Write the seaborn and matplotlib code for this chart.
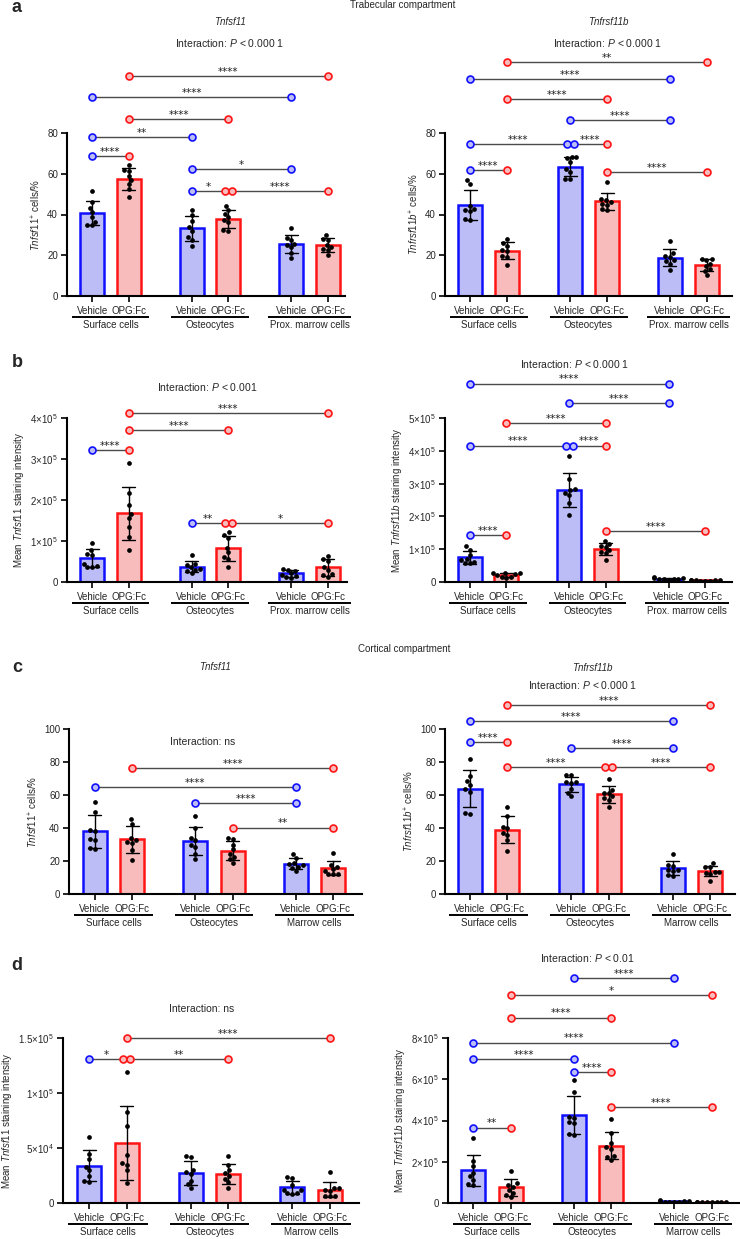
import numpy as np
import pandas as pd
import matplotlib
matplotlib.use("Agg")
import matplotlib.pyplot as plt
import matplotlib.transforms as mtransforms
import seaborn as sns

W, H, DPI = 740, 1239, 100

# ---------------- data ----------------
treatments = ["Vehicle", "OPG:Fc"]
groups_trab = ["Surface cells", "Osteocytes", "Prox. marrow cells"]
groups_cort = ["Surface cells", "Osteocytes", "Marrow cells"]

# a: Trabecular, % positive cells
a_tnfsf11_veh = [[51.7, 46, 43, 41, 38.6, 36.5, 35, 34.7],
                 [42, 39.6, 37, 34, 32, 29, 27.6, 24.4],
                 [33.5, 28.6, 27.6, 25.7, 24.9, 24, 21.3, 18.8]]
a_tnfsf11_opg = [[64.1, 62, 61.5, 59, 57, 55, 52.5, 48.6],
                 [44, 42, 40.4, 38.8, 37.5, 36.3, 32.2, 31.9],
                 [29.8, 28.1, 27.6, 24.9, 24, 23.2, 22.4, 20]]
a_tnfrsf11b_veh = [[57, 55, 44, 42.5, 42, 41.5, 38, 37.5],
                   [68.2, 68, 67.5, 65.8, 62.5, 60.9, 57.6, 57.6],
                   [27, 21.1, 19.5, 19.1, 17.5, 17, 15.9, 12.9]]
a_tnfrsf11b_opg = [[28, 26, 24.4, 22.7, 22, 19.6, 19.1, 15],
                   [56, 47.8, 47, 46.1, 45.3, 44.5, 42.9, 42],
                   [17.5, 18.3, 18, 15.9, 14.7, 13.4, 12.3, 10.1]]

# b: Trabecular, mean staining intensity (x 10^5)
b_tnfsf11_veh = [[0.94, 0.78, 0.68, 0.67, 0.45, 0.38, 0.37, 0.36],
                 [0.65, 0.45, 0.41, 0.37, 0.32, 0.30, 0.26, 0.22],
                 [0.32, 0.30, 0.28, 0.22, 0.18, 0.14, 0.12, 0.10]]
b_tnfsf11_opg = [[2.9, 2.16, 1.88, 1.65, 1.55, 1.35, 1.10, 0.79],
                 [1.21, 1.15, 1.08, 0.84, 0.73, 0.61, 0.57, 0.37],
                 [0.64, 0.57, 0.52, 0.37, 0.29, 0.19, 0.16, 0.12]]
b_tnfrsf11b_veh = [[1.09, 0.99, 0.82, 0.70, 0.66, 0.60, 0.58, 0.57],
                   [3.83, 3.14, 2.85, 2.79, 2.72, 2.65, 2.40, 2.04],
                   [0.15, 0.12, 0.11, 0.10, 0.09, 0.08, 0.08, 0.07]]
b_tnfrsf11b_opg = [[0.28, 0.27, 0.26, 0.24, 0.20, 0.16, 0.15, 0.12],
                   [1.25, 1.17, 1.09, 1.07, 0.97, 0.90, 0.87, 0.68],
                   [0.07, 0.06, 0.06, 0.05, 0.05, 0.04, 0.04, 0.03]]

# c: Cortical, % positive cells
c_tnfsf11_veh = [[55.7, 49.8, 38.9, 38, 33.5, 32.5, 28, 27.5],
                 [47, 39.9, 34, 32.5, 30, 28.7, 24, 21.1],
                 [24.3, 22, 18.6, 18, 17.5, 16.6, 15.5, 14]]
c_tnfsf11_opg = [[45.3, 42.5, 34, 33, 31.5, 31, 26.7, 20.6],
                 [34, 33.5, 30, 27, 24.3, 22.5, 21, 18.6],
                 [24.7, 17.6, 16.6, 15, 14.2, 12.3, 12.1, 11.9]]
c_tnfrsf11b_veh = [[82, 71.3, 68.2, 66, 63.5, 62, 49, 48.5],
                   [72.3, 71.9, 68, 67.6, 67, 63.6, 61.5, 59.5],
                   [24.3, 17.6, 17.2, 14.6, 14.4, 14, 11.5, 10.9]]
c_tnfrsf11b_opg = [[53, 47, 40.9, 39.9, 36.8, 36, 32.8, 26.3],
                   [69.8, 63, 61.5, 61, 59.1, 58.1, 57.1, 53],
                   [18.6, 16.6, 16.2, 13.6, 13.4, 12.8, 11.9, 8.1]]

# d: Cortical, mean staining intensity (x 10^5)
d_tnfsf11_veh = [[0.597, 0.45, 0.40, 0.33, 0.30, 0.25, 0.197, 0.188],
                 [0.424, 0.418, 0.30, 0.28, 0.26, 0.20, 0.17, 0.136],
                 [0.236, 0.227, 0.167, 0.121, 0.12, 0.09, 0.09, 0.085]]
d_tnfsf11_opg = [[1.188, 0.827, 0.697, 0.44, 0.36, 0.35, 0.30, 0.18],
                 [0.424, 0.348, 0.303, 0.273, 0.242, 0.218, 0.19, 0.136],
                 [0.282, 0.136, 0.135, 0.12, 0.11, 0.067, 0.066, 0.065]]
d_tnfrsf11b_veh = [[3.14, 2.06, 1.77, 1.45, 1.29, 1.13, 0.92, 0.89],
                   [5.96, 5.39, 4.19, 4.14, 3.95, 3.86, 3.35, 3.30],
                   [0.15, 0.10, 0.09, 0.08, 0.07, 0.06, 0.05, 0.04]]
d_tnfrsf11b_opg = [[1.56, 0.95, 0.88, 0.80, 0.65, 0.50, 0.40, 0.30],
                   [4.06, 3.38, 2.90, 2.70, 2.62, 2.29, 2.22, 2.09],
                   [0.07, 0.06, 0.06, 0.05, 0.05, 0.04, 0.04, 0.03]]

# comparisons: (bar i, bar j, y, label, end-offset i, end-offset j)
# bars: 0 Veh surf, 1 OPG surf, 2 Veh osteo, 3 OPG osteo, 4 Veh marrow, 5 OPG marrow
a_tnfsf11_comps = [(1, 5, 108.0, "****", 0, 0), (0, 4, 97.5, "****", 0, 0),
                   (1, 3, 86.9, "****", 0, 0), (0, 2, 78.0, "**", 0, 0),
                   (0, 1, 68.7, "****", 0, 0), (2, 4, 62.5, "*", 0, 0),
                   (2, 3, 51.4, "*", 0, -1), (3, 5, 51.4, "****", 1, 0)]
a_tnfrsf11b_comps = [(1, 5, 114.7, "**", 0, 0), (0, 4, 106.5, "****", 0, 0),
                     (1, 3, 96.5, "****", 0, 0), (2, 4, 86.4, "****", 0, 0),
                     (0, 2, 74.4, "****", 0, -1), (2, 3, 74.4, "****", 1, 0),
                     (0, 1, 61.8, "****", 0, 0), (3, 5, 61.0, "****", 0, 0)]
b_tnfsf11_comps = [(1, 5, 4.12, "****", 0, 0), (1, 3, 3.71, "****", 0, 0),
                   (0, 1, 3.21, "****", 0, 0), (2, 3, 1.43, "**", 0, -1),
                   (3, 5, 1.43, "*", 1, 0)]
b_tnfrsf11b_comps = [(0, 4, 6.05, "****", 0, 0), (2, 4, 5.46, "****", 0, 0),
                     (1, 3, 4.85, "****", 0, 0), (0, 2, 4.16, "****", 0, -1),
                     (2, 3, 4.16, "****", 1, 0), (0, 1, 1.42, "****", 0, 0),
                     (3, 5, 1.56, "****", 0, 0)]
c_tnfsf11_comps = [(1, 5, 76.3, "****", 0, 0), (0, 4, 64.8, "****", 0, 0),
                   (2, 4, 54.9, "****", 0, 0), (3, 5, 40.3, "**", 0, 0)]
c_tnfrsf11b_comps = [(1, 5, 114.6, "****", 0, 0), (0, 4, 104.7, "****", 0, 0),
                     (0, 1, 91.9, "****", 0, 0), (2, 4, 88.3, "****", 0, 0),
                     (1, 3, 76.7, "****", 0, -1), (3, 5, 76.7, "****", 1, 0)]
d_tnfsf11_comps = [(1, 5, 1.50, "****", 0, 0), (0, 1, 1.306, "*", 0, -1),
                   (1, 3, 1.306, "**", 1, 0)]
d_tnfrsf11b_comps = [(2, 4, 10.90, "****", 0, 0), (1, 5, 10.10, "*", 0, 0),
                     (1, 3, 8.99, "****", 0, 0), (0, 4, 7.78, "****", 0, 0),
                     (0, 2, 7.00, "****", 0, 0), (2, 3, 6.36, "****", 0, 0),
                     (3, 5, 4.64, "****", 0, 0), (0, 1, 3.66, "**", 0, 0)]

# ---------------- style ----------------
sns.set_style("ticks")
plt.rcParams["font.family"] = ["Liberation Sans", "DejaVu Sans"]
plt.rcParams["mathtext.fontset"] = "custom"
plt.rcParams["mathtext.rm"] = "Liberation Sans"
plt.rcParams["mathtext.it"] = "Liberation Sans:italic"
plt.rcParams["mathtext.bf"] = "Liberation Sans:bold"

FILL = {"Vehicle": "#bcbcf6", "OPG:Fc": "#f8bcbc"}
EDGE = {"Vehicle": "#1010ff", "OPG:Fc": "#ff1515"}
OFF = 0.185
DOFF = 0.035

fig = plt.figure(figsize=(W / DPI, H / DPI), dpi=DPI)


def ftext(x, y, s, **kw):
    fig.text(x / W, 1 - y / H, s, ha="center", va="center", **kw)


def bar_pos(i):
    return i // 2 + (OFF if i % 2 else -OFF)


def panel(x0, x1, ytop, ybot, gc0, sp, veh, opg, groups, ytop_val, yticks,
          yticklabels, ylabel, comps, halfw):
    ax = fig.add_axes([x0 / W, 1 - ybot / H, (x1 - x0) / W, (ybot - ytop) / H])
    rows = []
    for gi, g in enumerate(groups):
        for ti, (t, arr) in enumerate(zip(treatments, [veh, opg])):
            for v in arr[gi]:
                rows.append(dict(group=g, treatment=t, value=v,
                                 pos=gi + (OFF if ti else -OFF)))
    df = pd.DataFrame(rows)
    for t in treatments:
        sub = df[df.treatment == t]
        sns.barplot(data=sub, x="pos", y="value", native_scale=True, orient="x",
                    width=0.24, color=FILL[t], saturation=1, edgecolor=EDGE[t],
                    linewidth=1.8, errorbar="sd", capsize=0.13,
                    err_kws=dict(color="black", linewidth=1.0), ax=ax)
    sns.swarmplot(data=df, x="pos", y="value", native_scale=True, orient="x",
                  color="black", size=3.4, ax=ax, zorder=3)
    ax.set_xlim((x0 - gc0) / sp, (x1 - gc0) / sp)
    ax.set_ylim(0, ytop_val)
    ax.set_yticks(yticks)
    ax.set_yticklabels(yticklabels, fontsize=7)
    ax.set_xticks([bar_pos(i) for i in range(6)])
    ax.set_xticklabels(treatments * 3, fontsize=7)
    ax.set_xlabel("")
    ax.set_ylabel(ylabel, fontsize=7, labelpad=3)
    ax.tick_params(axis="both", length=4, width=1.2, color="black", pad=2.5)
    ax.tick_params(axis="x", pad=3.5)
    for s in ("left", "bottom"):
        ax.spines[s].set_linewidth(1.5)
        ax.spines[s].set_color("black")
    sns.despine(ax=ax)

    # comparisons
    for (i, j, y, lab, oi, oj) in comps:
        xi = bar_pos(i) + oi * DOFF
        xj = bar_pos(j) + oj * DOFF
        ax.plot([xi, xj], [y, y], color="#4a4a4a", lw=1.0, clip_on=False, zorder=5)
        for xx, k in ((xi, i), (xj, j)):
            t = treatments[k % 2]
            ax.plot(xx, y, marker="o", ms=5, mfc=FILL[t], mec=EDGE[t], mew=1.2,
                    clip_on=False, zorder=6)
        ax.annotate(lab, xy=((xi + xj) / 2, y), xytext=(0, 0.8),
                    textcoords="offset points", ha="center", va="baseline",
                    fontsize=7.5, family="DejaVu Sans", color="#222222",
                    annotation_clip=False)

    # group labels with underline
    for gi, g in enumerate(groups):
        tr = ax.get_xaxis_transform() + mtransforms.ScaledTranslation(
            0, -21 / DPI, fig.dpi_scale_trans)
        ax.plot([gi - halfw[gi], gi + halfw[gi]], [0, 0], transform=tr,
                color="black", lw=1.4, clip_on=False, solid_capstyle="butt")
        tr2 = ax.get_xaxis_transform() + mtransforms.ScaledTranslation(
            0, -29 / DPI, fig.dpi_scale_trans)
        ax.text(gi, 0, g, transform=tr2, ha="center", va="center", fontsize=7)
    ax.set_xlim((x0 - gc0) / sp, (x1 - gc0) / sp)
    ax.set_ylim(0, ytop_val)
    return ax


def sci(v, e):
    return r"$%s{\times}10^{%d}$" % (v, e)


lab_pct_11 = r"$\mathit{Tnfsf11}^{+}$ cells/%"
lab_pct_11b = r"$\mathit{Tnfrsf11b}^{+}$ cells/%"
lab_int_11 = r"Mean $\mathit{Tnfsf11}$ staining intensity"
lab_int_11b = r"Mean $\mathit{Tnfrsf11b}$ staining intensity"
hw_trab = [0.39, 0.39, 0.42]
hw_cort = [0.39, 0.39, 0.39]

# a
panel(67, 345, 133, 296, 110.5, 99.5, a_tnfsf11_veh, a_tnfsf11_opg, groups_trab,
      80, [0, 20, 40, 60, 80], ["0", "20", "40", "60", "80"], lab_pct_11,
      a_tnfsf11_comps, hw_trab)
panel(445, 732, 133, 296, 488.5, 100, a_tnfrsf11b_veh, a_tnfrsf11b_opg, groups_trab,
      80, [0, 20, 40, 60, 80], ["0", "20", "40", "60", "80"], lab_pct_11b,
      a_tnfrsf11b_comps, hw_trab)
# b
panel(67, 347, 418, 582, 110.5, 99.5, b_tnfsf11_veh, b_tnfsf11_opg, groups_trab,
      4, [0, 1, 2, 3, 4], ["0"] + [sci(k, 5) for k in (1, 2, 3, 4)], lab_int_11,
      b_tnfsf11_comps, hw_trab)
panel(445, 732, 418, 582, 488, 99.5, b_tnfrsf11b_veh, b_tnfrsf11b_opg, groups_trab,
      5, [0, 1, 2, 3, 4, 5], ["0"] + [sci(k, 5) for k in (1, 2, 3, 4, 5)],
      lab_int_11b, b_tnfrsf11b_comps, hw_trab)
# c
panel(69, 362, 729, 894, 113.5, 100.5, c_tnfsf11_veh, c_tnfsf11_opg, groups_cort,
      100, [0, 20, 40, 60, 80, 100], ["0", "20", "40", "60", "80", "100"],
      lab_pct_11, c_tnfsf11_comps, hw_cort)
panel(445, 735, 729, 894, 488.5, 101.5, c_tnfrsf11b_veh, c_tnfrsf11b_opg, groups_cort,
      100, [0, 20, 40, 60, 80, 100], ["0", "20", "40", "60", "80", "100"],
      lab_pct_11b, c_tnfrsf11b_comps, hw_cort)
# d
panel(63, 359, 1038, 1203, 108, 101.5, d_tnfsf11_veh, d_tnfsf11_opg, groups_cort,
      1.5, [0, 0.5, 1.0, 1.5], ["0", sci(5, 4), sci(1, 5), sci(1.5, 5)],
      lab_int_11, d_tnfsf11_comps, hw_cort)
panel(448, 740, 1038, 1203, 492, 100.5, d_tnfrsf11b_veh, d_tnfrsf11b_opg, groups_cort,
      8, [0, 2, 4, 6, 8], ["0"] + [sci(k, 5) for k in (2, 4, 6, 8)],
      lab_int_11b, d_tnfrsf11b_comps, hw_cort)

# ---------------- texts ----------------
for lt, y in (("a", 8), ("b", 363), ("c", 667), ("d", 965)):
    ftext(17, y, lt, fontsize=13, fontweight="bold")
ftext(403, 5, "Trabecular compartment", fontsize=7)
ftext(404, 649, "Cortical compartment", fontsize=7)

ftext(230, 22, "Tnfsf11", fontsize=7, style="italic")
ftext(608, 22, "Tnfrsf11b", fontsize=7, style="italic")
ftext(230, 43, r"Interaction: $P$ < 0.000 1", fontsize=7.5)
ftext(608, 43, r"Interaction: $P$ < 0.000 1", fontsize=7.5)
ftext(207, 387, r"Interaction: $P$ < 0.001", fontsize=7.5)
ftext(575, 364, r"Interaction: $P$ < 0.000 1", fontsize=7.5)
ftext(215, 667, "Tnfsf11", fontsize=7, style="italic")
ftext(203, 742, "Interaction: ns", fontsize=7.5)
ftext(592, 668, "Tnfrsf11b", fontsize=7, style="italic")
ftext(583, 685, r"Interaction: $P$ < 0.000 1", fontsize=7.5)
ftext(202, 1009, "Interaction: ns", fontsize=7.5)
ftext(587, 958, r"Interaction: $P$ < 0.01", fontsize=7.5)

fig.savefig("out.png", dpi=DPI)
